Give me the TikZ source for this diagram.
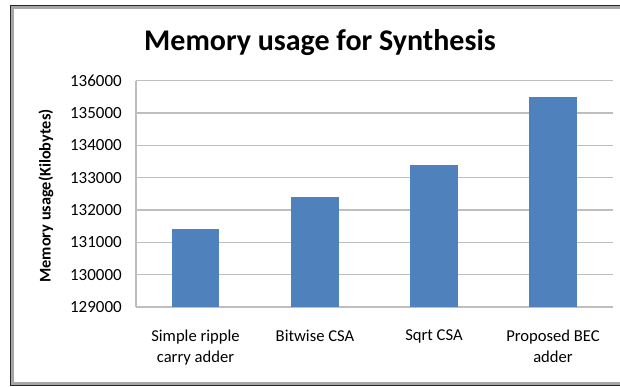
\documentclass[tikz,border=0pt]{standalone}
\usepackage{fontspec}
\setmainfont{Carlito}
\definecolor{barblue}{HTML}{4F81BD}
\definecolor{gridgray}{HTML}{BEBEBE}
\definecolor{framegray}{HTML}{A6A6A6}
\begin{document}
\begin{tikzpicture}[x=1pt,y=-1pt,
  bar/.style={fill=barblue, draw=none},
  gridline/.style={draw=gridgray, line width=1.3pt},
  ticklabel/.style={anchor=east, inner sep=0pt, font=\fontsize{17}{17}\selectfont},
  catlabel/.style={anchor=north, align=center, inner sep=0pt, font=\fontsize{16.6}{21}\selectfont},
]
\useasboundingbox (0,0) rectangle (620,387);
\clip (0,0) rectangle (620,387);
\fill[white] (0,0) rectangle (620,387);

% chart frame: dark outer line with a grey inner edge
\draw[framegray, line width=2.5pt] (12.5,7.5) rectangle (640,383.5);
\draw[black!85, line width=1.2pt] (10.5,5.5) rectangle (640,385.5);

% title
\node[font=\fontsize{30}{30}\selectfont\bfseries] (title) at (320,43) {Memory usage for Synthesis};

% horizontal gridlines and value labels (thousands of kilobytes)
\foreach \v [count=\i] in {129,...,136} {
  \draw[gridline] (136,{307-(\v-129)*32.33}) -- (612.7,{307-(\v-129)*32.33});
  \node[ticklabel] (t\i) at (122,{307-(\v-129)*32.33}) {\v000};
}
% vertical axis
\draw[gridline] (136,80.7) -- (136,307);

% bars
\foreach \c/\v [count=\i] in {195.5/131.4, 315/132.4, 434/133.4, 553/135.5} {
  \fill[bar] (\c-23.8,307) rectangle (\c+23.8,{307-(\v-129)*32.33});
}

% category labels
\node[catlabel] (c1) at (195.5,330) {Simple ripple\\carry adder};
\node[catlabel] (c2) at (315,330) {Bitwise CSA};
\node[catlabel] (c3) at (434,330) {Sqrt CSA};
\node[catlabel] (c4) at (553,330) {Proposed BEC\\adder};

% axis title
\node[rotate=90, font=\fontsize{16.3}{16}\selectfont\bfseries] (ytitle) at (46,196) {Memory usage(Kilobytes)};
\end{tikzpicture}
\end{document}
